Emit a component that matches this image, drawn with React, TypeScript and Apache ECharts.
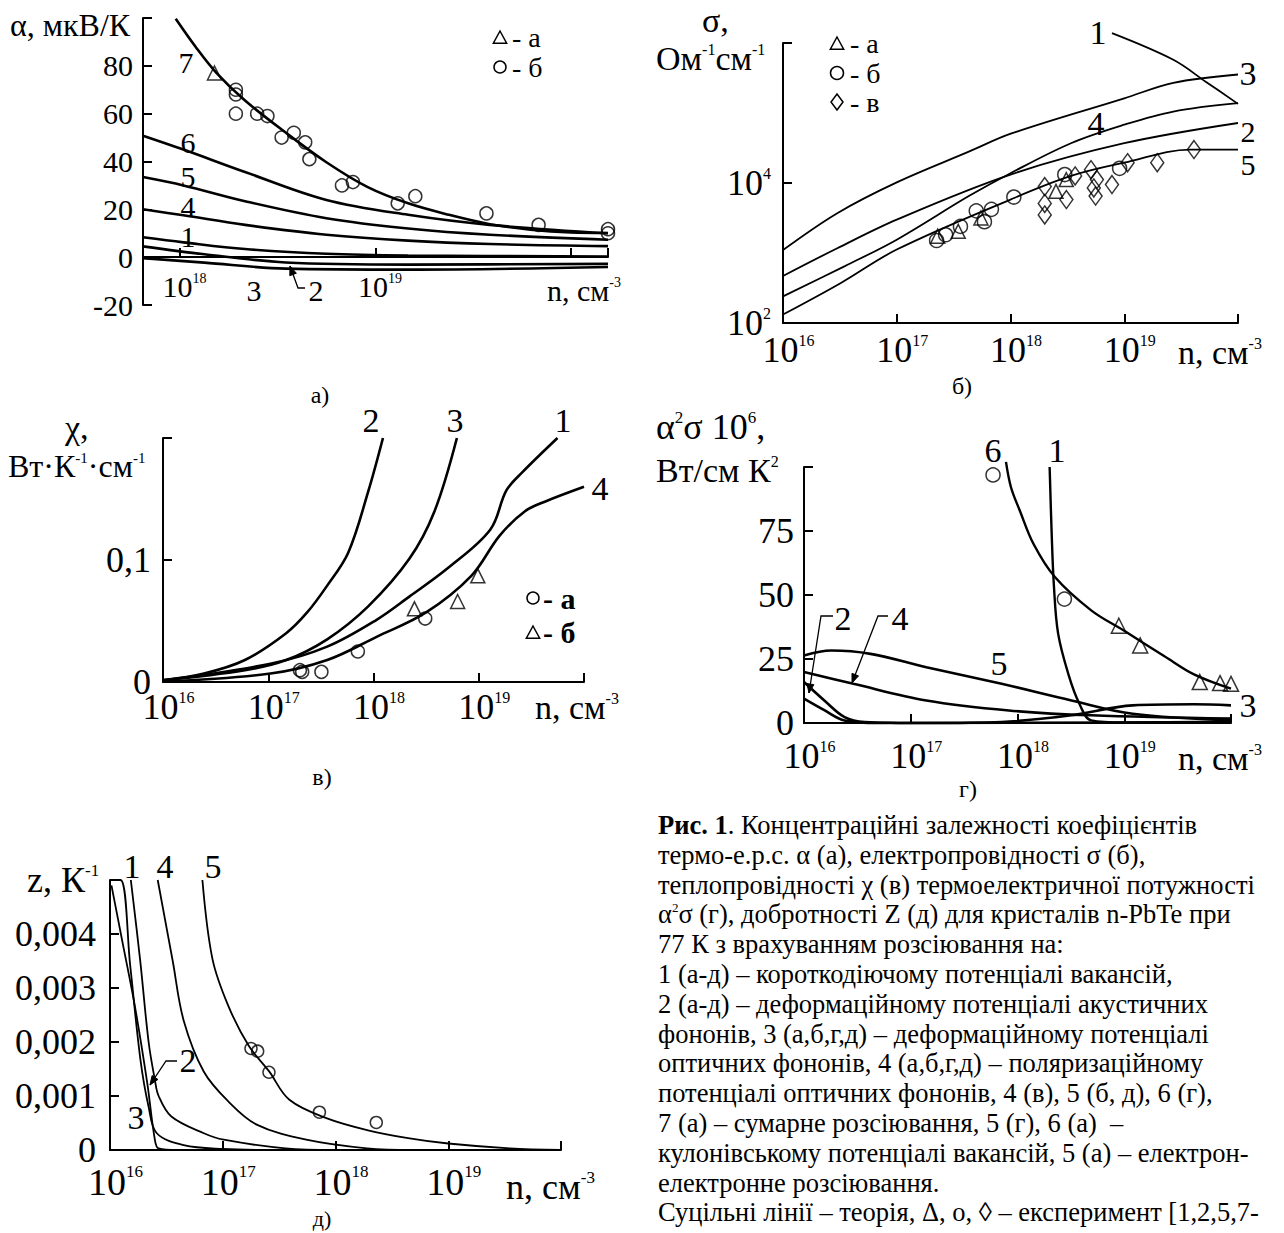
import React, { useEffect, useRef } from 'react';
import * as echarts from 'echarts';

const FONT = '"Liberation Serif", "Times New Roman", Times, serif';
const K = '#000';

// ---------- panel а : α(n) ----------
const A_X_MIN = 6.46e17;
const A_X_MAX = 1.55e20;
const A_C7 = [[9.5e17, 99.7], [1.2e18, 88], [1.53e18, 77.2], [2.15e18, 65.5], [3.47e18, 52.1], [5.61e18, 39.7], [9.08e18, 29.4], [1.47e19, 22.5], [2.38e19, 17.7], [3.85e19, 13.8], [6.21e19, 11.5], [1.0e20, 10.3], [1.55e20, 10.1]];
const A_C6 = [[6.46e17, 50.8], [1.04e18, 45], [2.15e18, 35.6], [5.61e18, 23.9], [1.47e19, 17.7], [3.85e19, 13.5], [1.55e20, 10]];
const A_C5 = [[6.46e17, 33.5], [1.04e18, 30], [2.15e18, 23.4], [5.61e18, 16.3], [1.47e19, 12], [3.85e19, 9.4], [1.55e20, 7.3]];
const A_C4 = [[6.46e17, 20], [1.04e18, 17.5], [2.15e18, 13.5], [5.61e18, 9.4], [1.47e19, 6.9], [3.85e19, 5.5], [1.55e20, 4.6]];
const A_C1 = [[6.46e17, 8.3], [1.04e18, 6.2], [2.15e18, 3.4], [5.61e18, 1.4], [1.47e19, 0.7], [1.55e20, 0.3]];
const A_C2 = [[6.46e17, 4.5], [1.33e18, 1.2], [3.47e18, -2.2], [1.47e19, -3.1], [1.55e20, -2.8]];
const A_C3 = [[6.46e17, -0.4], [1.33e18, -2.3], [3.47e18, -4.8], [1.47e19, -5.2], [1.55e20, -4.1]];
const A_TRI = [[1.5e18, 77]];
const A_CIR = [[1.93e18, 70], [1.93e18, 68], [1.93e18, 60], [2.48e18, 60], [2.8e18, 59], [3.31e18, 50], [3.82e18, 52], [4.37e18, 48], [4.59e18, 41], [6.74e18, 30], [7.67e18, 31.4], [1.3e19, 22.5], [1.6e19, 25.5], [3.7e19, 18.3], [6.84e19, 13.5], [1.55e20, 11.7], [1.55e20, 10]];

// ---------- panel б : σ(n) ----------
const B_C1 = [[7.8e18, 1.38e6], [2.7e19, 5.75e5], [5.2e19, 2.8e5], [1.0e20, 1.35e5]];
const B_C3 = [[1e16, 1.1e3], [3.0e16, 3.7e3], [1e17, 1.02e4], [4.3e17, 2.8e4], [1.02e18, 5.1e4], [1e19, 1.62e5], [2.7e19, 2.7e5], [1e20, 3.55e5]];
const B_C4 = [[1e16, 2.4e2], [3.5e16, 6.5e2], [1e17, 1.55e3], [4.3e17, 6.5e3], [1e18, 1.38e4], [3.4e18, 3.7e4], [1e19, 6.8e4], [2.7e19, 1.05e5], [1e20, 1.38e5]];
const B_C2 = [[1e16, 4.7e2], [3.0e16, 1.17e3], [1e17, 3.0e3], [1e18, 1.32e4], [1e19, 3.7e4], [1e20, 7.2e4]];
const B_C5 = [[1e16, 1.32e2], [3.2e16, 3.7e2], [1e17, 1.12e3], [1e18, 5.8e3], [3.4e18, 1.26e4], [1e19, 1.95e4], [3.8e19, 3.0e4], [1e20, 3.0e4]];
const B_TRI = [[2.29e17, 1.74e3], [3.47e17, 2.04e3], [5.5e17, 3.16e3], [2.51e18, 7.6e3], [3.09e18, 1.12e4]];
const B_CIR = [[2.24e17, 1.51e3], [2.69e17, 1.82e3], [3.63e17, 2.4e3], [5.0e17, 4.0e3], [5.9e17, 2.8e3], [6.8e17, 4.2e3], [1.07e18, 6.3e3], [3.0e18, 1.32e4], [9.1e18, 1.62e4]];
const B_DIA = [[2.0e18, 8.9e3], [2.0e18, 5.1e3], [2.0e18, 3.5e3], [3.1e18, 5.8e3], [3.7e18, 1.26e4], [5.1e18, 1.55e4], [5.4e18, 8.5e3], [5.6e18, 6.5e3], [5.75e18, 1.12e4], [7.8e18, 9.5e3], [1.07e19, 1.95e4], [1.95e19, 1.95e4], [4.1e19, 3.0e4]];

// ---------- panel в : χ(n) ----------
const V_C2 = [[1e16, 0.0014], [2.45e16, 0.0069], [6.0e16, 0.018], [1.48e17, 0.04], [2.34e17, 0.057], [3.63e17, 0.079], [5.75e17, 0.106], [8.9e17, 0.156], [1.23e18, 0.2]];
const V_C3 = [[1e16, 0.0014], [6.0e16, 0.0097], [1.48e17, 0.018], [3.63e17, 0.035], [8.9e17, 0.062], [2.19e18, 0.101], [3.8e18, 0.14], [6.2e18, 0.2]];
const V_C1 = [[1e16, 0.0014], [1.05e17, 0.015], [3.63e17, 0.029], [1.07e18, 0.051], [2.19e18, 0.07], [5.2e18, 0.094], [1.29e19, 0.125], [1.83e19, 0.157], [2.6e19, 0.172], [5.6e19, 0.2]];
const V_C4 = [[1e16, 0.0002], [1.05e17, 0.0069], [3.63e17, 0.018], [1.07e18, 0.037], [3.16e18, 0.057], [8.5e18, 0.087], [1.58e19, 0.12], [2.75e19, 0.14], [4.3e19, 0.148], [1e20, 0.16]];
const V_CIR = [[2.0e17, 0.0097], [2.1e17, 0.0083], [3.2e17, 0.0083], [7.1e17, 0.025], [3.1e18, 0.052]];
const V_TRI = [[2.45e18, 0.06], [6.3e18, 0.066], [9.8e18, 0.087]];

// ---------- panel г : α²σ(n) ----------
const G_C6 = [[7.8e17, 102], [8.7e17, 92], [1.05e18, 83], [1.41e18, 70], [2.24e18, 57], [4.9e18, 44], [1e19, 36], [2.4e19, 26], [4.5e19, 19], [1e20, 13.4]];
const G_C1 = [[2.0e18, 100], [2.09e18, 74], [2.19e18, 54], [2.4e18, 35], [3.0e18, 19], [3.8e18, 7.5], [4.9e18, 1], [1e19, 0.2], [1e20, 0.5]];
const G_C5 = [[1e16, 26.4], [1.8e16, 28.3], [4.2e16, 27], [1.4e17, 21.8], [7.1e17, 15.3], [3.2e18, 8.8], [1.2e19, 3.6], [1e20, 1]];
const G_C4 = [[1e16, 19.9], [2.9e16, 15.3], [1.4e17, 8.8], [8.3e17, 4.9], [4.9e18, 3], [1e20, 1.7]];
const G_C3 = [[1e16, 16], [1.55e16, 8.8], [2.4e16, 2.3], [3.7e16, 0.4], [1.4e17, 0], [7.1e17, 0.4], [3.2e18, 3], [1.2e19, 6.9], [4.5e19, 7.3], [1e20, 6.9]];
const G_C2 = [[1e16, 9.5], [1.55e16, 5], [2.4e16, 1], [5e16, 0], [1e20, 0.3]];
const G_CIR = [[5.9e17, 96.9], [2.75e18, 48.4]];
const G_TRI = [[8.9e18, 38], [1.41e19, 30.3], [5.1e19, 16], [7.9e19, 15.6], [1e20, 15.3]];

// ---------- panel д : Z(n) ----------
const D_C3 = [[1.03e16, 0.0049], [1.29e16, 0.00385], [1.66e16, 0.00267], [2.14e16, 0.00124], [2.5e16, 0.00019], [2.7e16, 0.00003], [4e16, 0], [1e20, 0]];
const D_C2 = [[1e16, 0.005], [1.24e16, 0.005], [1.51e16, 0.00342], [1.86e16, 0.00168], [2.2e16, 0.0008], [2.6e16, 0.00031], [4.5e16, 0.00009], [1e17, 0.00002], [3e17, 0], [1e20, 0]];
const D_C1 = [[1.53e16, 0.005], [1.85e16, 0.00352], [2.2e16, 0.002], [2.5e16, 0.0013], [2.7e16, 0.001], [3.5e16, 0.00062], [6.8e16, 0.00031], [1.02e17, 0.00019], [3.6e17, 0.00003], [1e18, 0], [1e20, 0]];
const D_C4 = [[2.65e16, 0.005], [3.6e16, 0.0035], [4.5e16, 0.0024], [6.8e16, 0.00145], [1.12e17, 0.0009], [2e17, 0.00047], [5.5e17, 0.00019], [1.9e18, 0.00003], [5e18, 0], [1e20, 0]];
const D_C5 = [[6.6e16, 0.005], [8.1e16, 0.00354], [1.12e17, 0.00267], [1.7e17, 0.00193], [2.57e17, 0.00146], [3.9e17, 0.00093], [8.3e17, 0.00059], [1.9e18, 0.00037], [4.4e18, 0.00022], [1e19, 0.00012], [3.5e19, 0.00003], [1e20, 0]];
const D_CIR = [[1.78e17, 0.00188], [2.04e17, 0.00183], [2.57e17, 0.00144], [7.2e17, 0.0007], [2.3e18, 0.00051]];

const CAPTION = [
  '{b|Рис. 1}. Концентраційні залежності коефіцієнтів',
  'термо-е.р.с. α (а), електропровідності σ (б),',
  'теплопровідності χ (в) термоелектричної потужності',
  'α{s|2}σ (г), добротності Z (д) для кристалів n-PbTe при',
  '77 К з врахуванням розсіювання на:',
  '1 (а-д) – короткодіючому потенціалі вакансій,',
  '2 (а-д) – деформаційному потенціалі акустичних',
  'фононів, 3 (а,б,г,д) – деформаційному потенціалі',
  'оптичних фононів, 4 (а,б,г,д) – поляризаційному',
  'потенціалі оптичних фононів, 4 (в), 5 (б, д), 6 (г),',
  '7 (а) – сумарне розсіювання, 5 (г), 6 (а)  –',
  'кулонівському потенціалі вакансій, 5 (а) – електрон-',
  'електронне розсіювання.',
  'Суцільні лінії – теорія, Δ, о, ◊ – експеримент [1,2,5,7-',
];

function richSup(size: number, bold = false) {
  const s = Math.round(size * 0.48);
  return {
    s: { fontSize: s, fontFamily: FONT, fill: K, color: K, verticalAlign: 'top', fontWeight: bold ? 'bold' : 'normal' },
    b: { fontSize: size, fontFamily: FONT, fill: K, color: K, fontWeight: 'bold' },
  };
}

function T(x: number, y: number, text: string, size: number, align = 'left', bold = false) {
  return {
    type: 'text', x, y, silent: true,
    style: {
      text, fontSize: size, fontFamily: FONT, fill: K, align, verticalAlign: 'middle',
      fontWeight: bold ? 'bold' : 'normal', rich: richSup(size, bold),
    },
  };
}

function arrow(pts: number[][]) {
  const n = pts.length;
  const [x1, y1] = pts[n - 2];
  const [x2, y2] = pts[n - 1];
  const a = Math.atan2(y2 - y1, x2 - x1);
  const L = 9, W = 3.5;
  const bx = x2 - L * Math.cos(a), by = y2 - L * Math.sin(a);
  const head = [[x2, y2], [bx + W * Math.sin(a), by - W * Math.cos(a)], [bx - W * Math.sin(a), by + W * Math.cos(a)]];
  return [
    { type: 'polyline', silent: true, shape: { points: pts }, style: { stroke: K, lineWidth: 1.3, fill: 'none' } },
    { type: 'polygon', silent: true, shape: { points: head }, style: { fill: K, stroke: K, lineWidth: 1 } },
  ];
}

function triMark(cx: number, cy: number, r: number) {
  return { type: 'polygon', silent: true, shape: { points: [[cx, cy - r], [cx + r * 0.95, cy + r * 0.75], [cx - r * 0.95, cy + r * 0.75]] }, style: { fill: 'none', stroke: K, lineWidth: 1.5 } };
}
function cirMark(cx: number, cy: number, r: number) {
  return { type: 'circle', silent: true, shape: { cx, cy, r }, style: { fill: 'none', stroke: K, lineWidth: 1.5 } };
}
function diaMark(cx: number, cy: number, r: number) {
  return { type: 'polygon', silent: true, shape: { points: [[cx, cy - r], [cx + r * 0.75, cy], [cx, cy + r], [cx - r * 0.75, cy]] }, style: { fill: 'none', stroke: K, lineWidth: 1.5 } };
}

function expLabel(v: number) {
  const e = Math.log10(v);
  const r = Math.round(e);
  return { e, r, ok: Math.abs(e - r) < 0.01 };
}

function xLog(gi: number, min: number, max: number, fs: number, margin: number, hide: number[], offset = 0) {
  return {
    type: 'log', gridIndex: gi, min, max, logBase: 10, position: 'bottom', offset,
    axisLine: { onZero: false, lineStyle: { color: K, width: 2 } },
    axisTick: { inside: true, length: 9, lineStyle: { color: K, width: 2 } },
    splitLine: { show: false },
    axisLabel: {
      margin, showMinLabel: true, showMaxLabel: true,
      formatter: (v: number) => {
        const { r, ok } = expLabel(v);
        if (!ok || hide.includes(r)) return '';
        return `{n|10}{s|${r}}`;
      },
      rich: {
        n: { fontSize: fs, fontFamily: FONT, color: K, padding: [0, 0, 0, Math.round(fs * 0.3)] },
        s: { fontSize: Math.round(fs * 0.45), fontFamily: FONT, color: K, verticalAlign: 'top' },
      },
    },
  };
}

function yVal(gi: number, min: number, max: number, interval: number, fs: number, margin: number, fmt: (v: number) => string) {
  return {
    type: 'value', gridIndex: gi, min, max, interval,
    axisLine: { show: true, onZero: false, lineStyle: { color: K, width: 2 } },
    axisTick: { show: true, inside: true, length: 9, lineStyle: { color: K, width: 2 } },
    splitLine: { show: false },
    axisLabel: { margin, fontSize: fs, fontFamily: FONT, color: K, formatter: fmt, showMinLabel: true, showMaxLabel: true },
  };
}

function line(gi: number, data: number[][], width: number) {
  return {
    type: 'line', xAxisIndex: gi, yAxisIndex: gi, data, symbol: 'none', showSymbol: false,
    smooth: 0.35, clip: false, silent: true, z: 2,
    lineStyle: { color: K, width },
  };
}

function scatter(gi: number, data: number[][], symbol: string, size: number | number[]) {
  return {
    type: 'scatter', xAxisIndex: gi, yAxisIndex: gi, data, symbol, symbolSize: size, silent: true, z: 3, clip: false,
    itemStyle: { color: 'rgba(0,0,0,0)', borderColor: K, borderWidth: 1.5 },
  };
}

function buildOption() {
  const grids = [
    { left: 143, top: 18, width: 465, height: 287 },
    { left: 783, top: 43, width: 455, height: 280 },
    { left: 163, top: 438, width: 421, height: 244 },
    { left: 804, top: 467, width: 427, height: 256 },
    { left: 110, top: 880, width: 451, height: 270 },
  ];
  // panel а: the n-axis lies on α = 0, i.e. 20/120 of the grid height above its bottom
  const aZeroOffset = -Math.round(287 * 20 / 120);
  const xAxis = [
    xLog(0, A_X_MIN, A_X_MAX, 30, 14, [20], aZeroOffset),
    xLog(1, 1e16, 1e20, 36, 9, [20]),
    xLog(2, 1e16, 1e20, 36, 7, [20]),
    xLog(3, 1e16, 1e20, 36, 15, [20]),
    xLog(4, 1e16, 1e20, 38, 13, [20]),
  ];
  const yB = {
    type: 'log', gridIndex: 1, min: 100, max: 1e6, logBase: 100,
    axisLine: { show: true, onZero: false, lineStyle: { color: K, width: 2 } },
    axisTick: { show: true, inside: true, length: 9, lineStyle: { color: K, width: 2 } },
    splitLine: { show: false },
    axisLabel: {
      margin: 12, showMinLabel: true, showMaxLabel: true,
      formatter: (v: number) => {
        const { r, ok } = expLabel(v);
        if (!ok || r === 6) return '';
        return `{n|10}{s|${r}}`;
      },
      rich: {
        n: { fontSize: 36, fontFamily: FONT, color: K },
        s: { fontSize: 16, fontFamily: FONT, color: K, verticalAlign: 'top' },
      },
    },
  };
  const yAxis = [
    yVal(0, -20, 100, 20, 30, 10, (v) => (v >= 100 ? '' : String(v))),
    yB,
    yVal(2, 0, 0.2, 0.1, 36, 12, (v) => (v === 0 ? '0' : v > 0.15 ? '' : v.toFixed(1).replace('.', ','))),
    yVal(3, 0, 100, 25, 36, 10, (v) => (v >= 100 ? '' : String(v))),
    yVal(4, 0, 0.005, 0.001, 36, 14, (v) => (v === 0 ? '0' : v > 0.0045 ? '' : v.toFixed(3).replace('.', ','))),
  ];

  const series = [
    line(0, A_C7, 2.6), line(0, A_C6, 2.6), line(0, A_C5, 2.6), line(0, A_C4, 2.6), line(0, A_C1, 2.6), line(0, A_C2, 2.6), line(0, A_C3, 2.6),
    scatter(0, A_TRI, 'triangle', 14), scatter(0, A_CIR, 'circle', 13),
    line(1, B_C1, 1.8), line(1, B_C3, 1.8), line(1, B_C4, 1.8), line(1, B_C2, 1.8), line(1, B_C5, 1.8),
    scatter(1, B_TRI, 'triangle', 14), scatter(1, B_CIR, 'circle', 14), scatter(1, B_DIA, 'diamond', [13, 18]),
    line(2, V_C2, 2.6), line(2, V_C3, 2.6), line(2, V_C1, 2.6), line(2, V_C4, 2.6),
    scatter(2, V_CIR, 'circle', 13), scatter(2, V_TRI, 'triangle', 14),
    line(3, G_C6, 2.4), line(3, G_C1, 2.4), line(3, G_C5, 2.6), line(3, G_C4, 2.6), line(3, G_C3, 2.6), line(3, G_C2, 2.6),
    scatter(3, G_CIR, 'circle', 14), scatter(3, G_TRI, 'triangle', 15),
    line(4, D_C3, 1.8), line(4, D_C2, 1.8), line(4, D_C1, 1.8), line(4, D_C4, 1.8), line(4, D_C5, 1.8),
    scatter(4, D_CIR, 'circle', 12),
  ];

  const g: any[] = [
    // panel а
    T(10, 25, 'α, мкВ/К', 32),
    T(186, 62, '7', 30, 'center'), T(188, 142, '6', 30, 'center'), T(188, 176, '5', 30, 'center'),
    T(188, 206, '4', 30, 'center'), T(188, 236, '1', 30, 'center'), T(254, 290, '3', 30, 'center'), T(316, 290, '2', 30, 'center'),
    ...arrow([[305, 288], [298, 288], [290, 266]]),
    triMark(500, 38, 7), T(512, 37, '- а', 28), cirMark(500, 67, 6), T(512, 67, '- б', 28),
    T(547, 290, 'n, см{s|-3}', 30),
    T(320, 395, 'а)', 24, 'center'),
    // panel б
    T(702, 20, 'σ,', 34), T(656, 58, 'Ом{s|-1}см{s|-1}', 34),
    triMark(837, 44, 7), T(850, 43, '- а', 28), cirMark(837, 73, 6.5), T(850, 73, '- б', 28), diaMark(837, 102, 8), T(850, 102, '- в', 28),
    T(1098, 32, '1', 34, 'center'), T(1248, 73, '3', 34, 'center'), T(1096, 123, '4', 34, 'center'),
    T(1248, 131, '2', 30, 'center'), T(1248, 164, '5', 30, 'center'),
    T(1178, 352, 'n, см{s|-3}', 34),
    T(962, 386, 'б)', 24, 'center'),
    // panel в
    T(65, 427, 'χ,', 34), T(8, 466, 'Вт·К{s|-1}·см{s|-1}', 32),
    T(371, 420, '2', 34, 'center'), T(455, 420, '3', 34, 'center'), T(563, 420, '1', 34, 'center'), T(600, 488, '4', 34, 'center'),
    cirMark(533, 598, 6), T(543, 598, '- а', 30, 'left', true), triMark(533, 633, 7), T(543, 632, '- б', 30, 'left', true),
    T(535, 707, 'n, см{s|-3}', 34),
    T(322, 777, 'в)', 24, 'center'),
    // panel г
    T(656, 427, 'α{s|2}σ 10{s|6},', 36), T(656, 470, 'Вт/см К{s|2}', 34),
    T(993, 450, '6', 34, 'center'), T(1057, 450, '1', 34, 'center'), T(999, 663, '5', 34, 'center'), T(1248, 705, '3', 34, 'center'),
    T(843, 618, '2', 34, 'center'), T(900, 618, '4', 34, 'center'),
    ...arrow([[833, 616], [821, 616], [809, 693]]),
    ...arrow([[888, 616], [878, 616], [852, 683]]),
    T(1178, 758, 'n, см{s|-3}', 34),
    T(968, 789, 'г)', 24, 'center'),
    // panel д
    T(27, 880, 'z, К{s|-1}', 36),
    T(132, 866, '1', 34, 'center'), T(165, 866, '4', 34, 'center'), T(213, 866, '5', 34, 'center'),
    T(136, 1117, '3', 34, 'center'), T(188, 1060, '2', 34, 'center'),
    ...arrow([[177, 1061], [166, 1061], [150, 1085]]),
    T(506, 1187, 'n, см{s|-3}', 36),
    T(322, 1218, 'д)', 22, 'center'),
  ];
  CAPTION.forEach((s, i) => g.push(T(658, 825 + i * 29.8, s, 26.5)));

  return { animation: false, backgroundColor: '#fff', grid: grids, xAxis, yAxis, series, graphic: g };
}

export default function App() {
  const ref = useRef<HTMLDivElement>(null);
  useEffect(() => {
    document.body.style.margin = '0';
    const chart = echarts.init(ref.current as HTMLDivElement, null, { renderer: 'svg' });
    chart.setOption(buildOption() as any);
    return () => chart.dispose();
  }, []);
  return <div ref={ref} style={{ width: 1284, height: 1233 }} />;
}
